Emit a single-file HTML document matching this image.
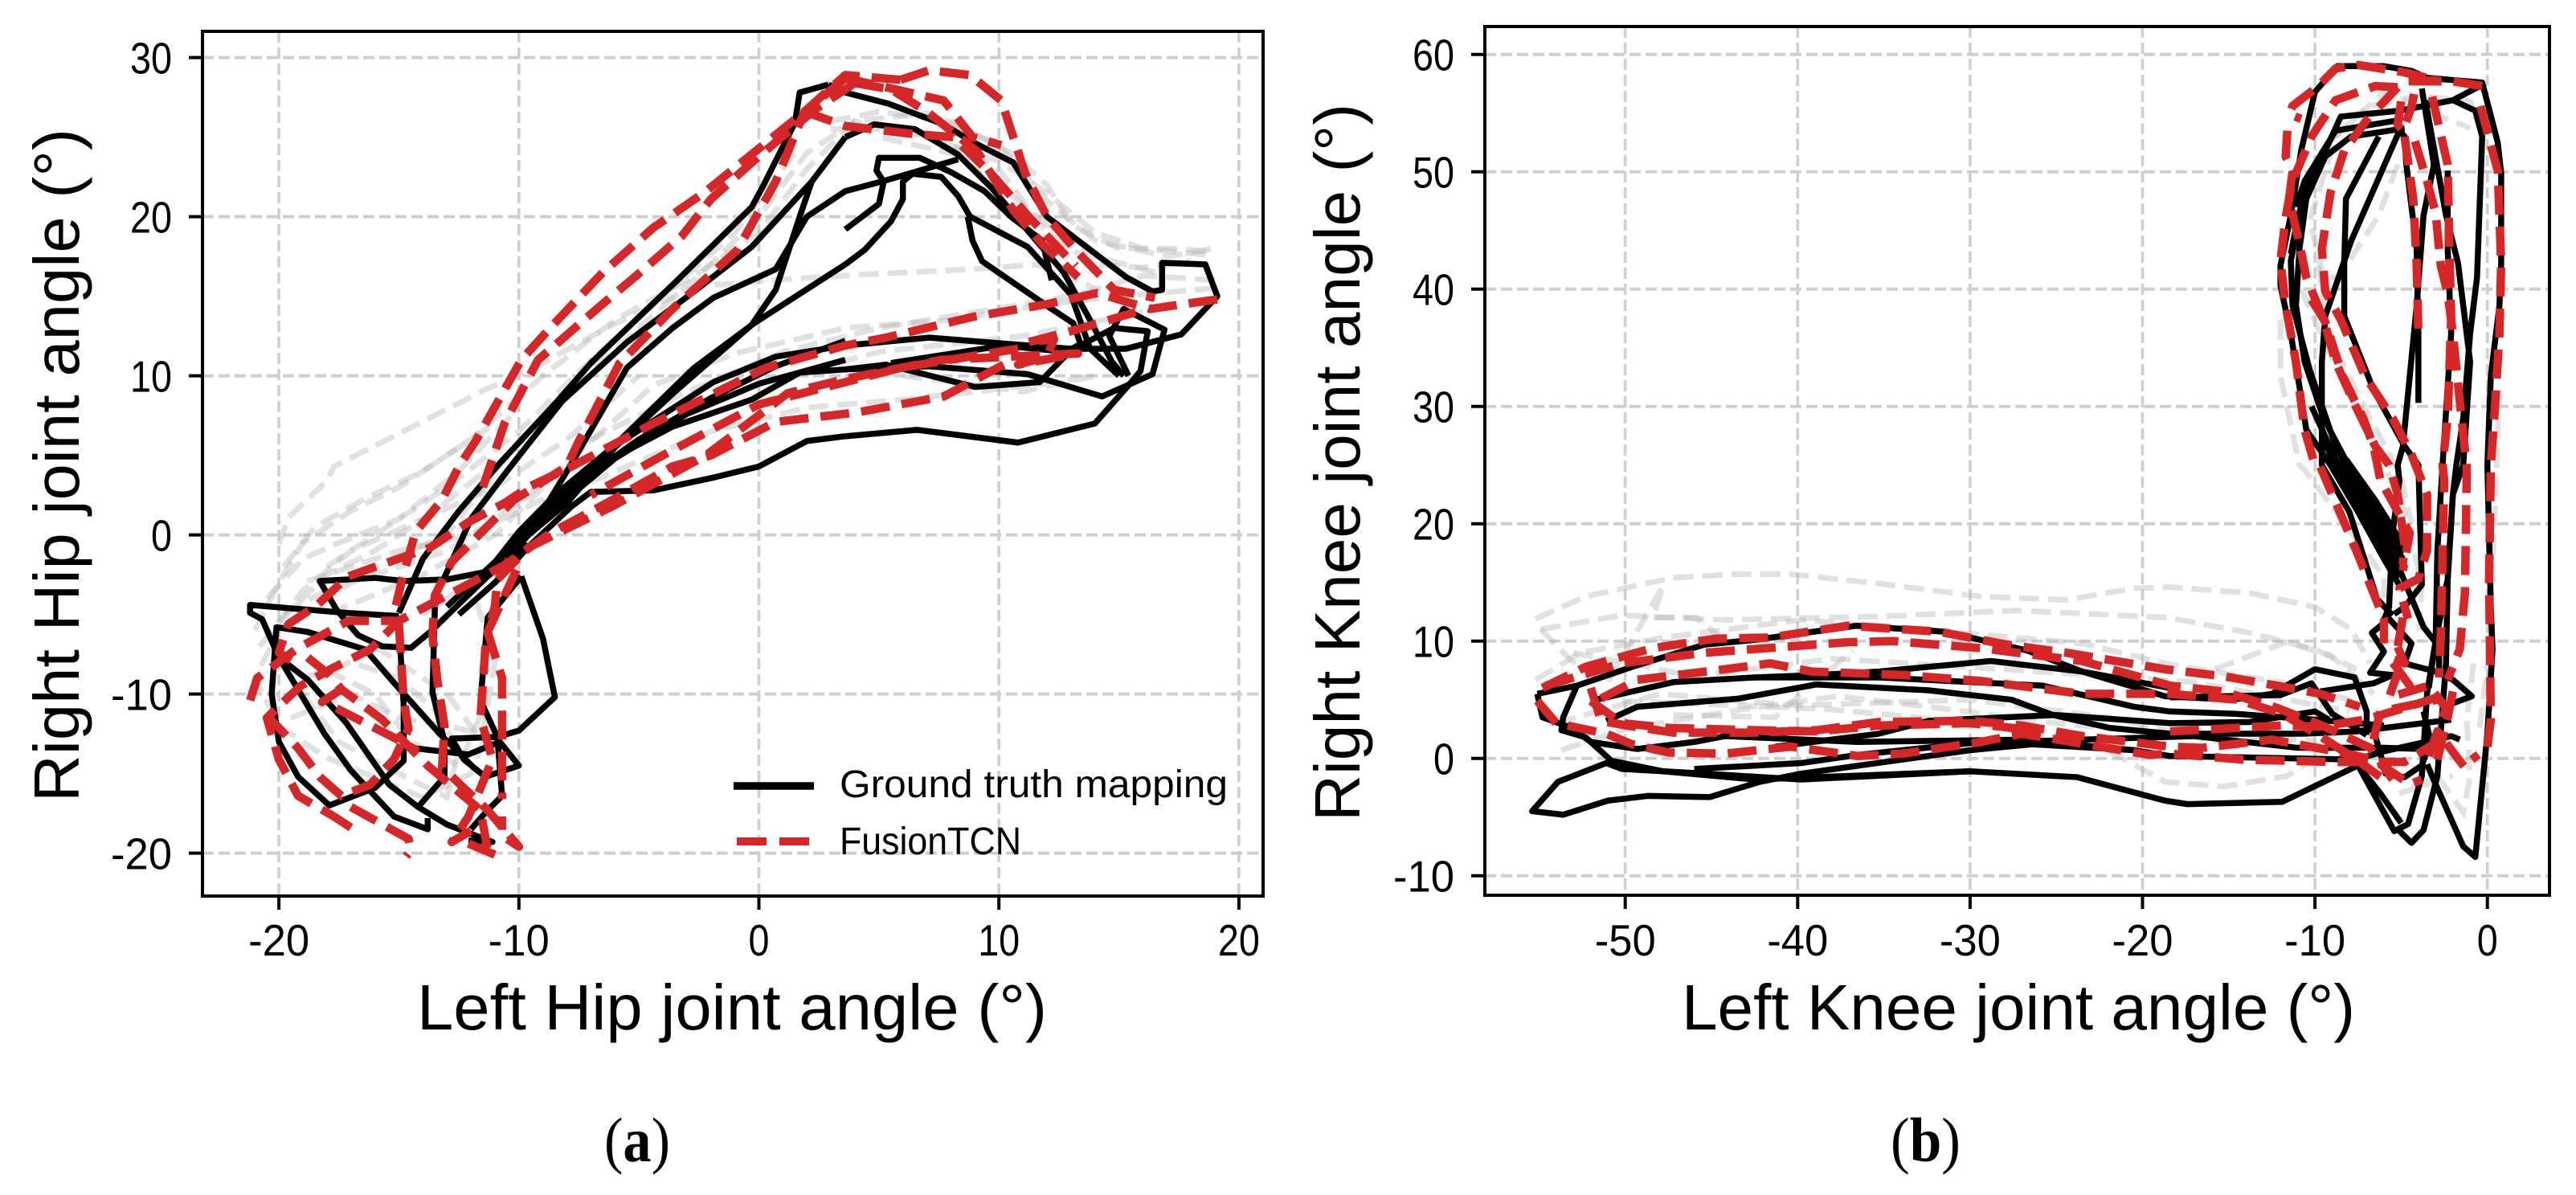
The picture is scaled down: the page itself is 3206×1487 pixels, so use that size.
<!DOCTYPE html>
<html lang="en">
<head>
<meta charset="utf-8">
<title>Joint angle mappings</title>
<style>
html,body{margin:0;padding:0;background:#fff;}
svg{display:block;}
text{font-family:"Liberation Sans",sans-serif;fill:#000;}
</style>
</head>
<body>
<svg id="figure" xmlns="http://www.w3.org/2000/svg" width="3206" height="1487" viewBox="0 0 3206 1487">
<rect width="3206" height="1487" fill="#fff"/>
<g id="chart-a"></g>
<g id="chart-b"></g>
<text x="519" y="1281" font-size="80" textLength="784" lengthAdjust="spacingAndGlyphs">Left Hip joint angle (°)</text>
<text transform="translate(98,998) rotate(-90)" font-size="80" textLength="838" lengthAdjust="spacingAndGlyphs">Right Hip joint angle (°)</text>
<text x="2093" y="1281" font-size="80" textLength="838" lengthAdjust="spacingAndGlyphs">Left Knee joint angle (°)</text>
<text transform="translate(1692,1022) rotate(-90)" font-size="80" textLength="893" lengthAdjust="spacingAndGlyphs">Right Knee joint angle (°)</text>
<text x="752" y="1445" font-size="78" textLength="82" lengthAdjust="spacingAndGlyphs" style="font-family:'Liberation Serif',serif">(<tspan font-weight="bold">a</tspan>)</text>
<text x="2353" y="1445" font-size="78" textLength="87" lengthAdjust="spacingAndGlyphs" style="font-family:'Liberation Serif',serif">(<tspan font-weight="bold">b</tspan>)</text>
<g>
<line x1="913" x2="1013" y1="978" y2="978" stroke="#000" stroke-width="9.5"/>
<line x1="917" x2="1007" y1="1047" y2="1047" stroke="#d62728" stroke-width="10" stroke-dasharray="37 16"/>
<text x="1045" y="992" font-size="48" textLength="483" lengthAdjust="spacingAndGlyphs">Ground truth mapping</text>
<text x="1045" y="1063" font-size="48" textLength="226" lengthAdjust="spacingAndGlyphs">FusionTCN</text>
</g>
</svg>
<script>
// ---- tick values ----
const hipXTicks = [-20, -10, 0, 10, 20];
const hipYTicks = [-20, -10, 0, 10, 20, 30];
const kneeXTicks = [-50, -40, -30, -20, -10, 0];
const kneeYTicks = [-10, 0, 10, 20, 30, 40, 50, 60];

// ---- hip panel: ground truth traces, [left angle, right angle] ----
const hipTruth = [
 [[2.9,28.3],[1.7,27.8],[1.5,25.9],[0.2,22],[-0.3,20.6],[-3.4,16],[-7,10.8],[-8.4,8.4],[-10.8,4.5],[-12.5,1.5],[-14,-1.5],[-15,-4.9]],
 [[2.9,28.3],[3.6,27.8],[5.4,27.1],[7.7,25.8],[8.9,24.7],[10.6,23.4],[12,20],[15.3,16.2],[16.4,15.3],[16.8,15.4],[16.8,17.1],[18.6,17],[19.1,15],[17.6,12.6],[15.3,11.7],[13,11.7],[10.4,12],[7.1,12.4],[3.6,11.9],[0.7,11.2],[-1.9,9.6],[-6.1,5.5],[-8.5,2.5],[-10,0.2],[-11.3,-2.3],[-13,-2.8],[-14.8,-2.9],[-16,-2.7],[-18.3,-2.9],[-17.6,-4.7],[-16.7,-6.3],[-15.7,-7],[-14.5,-7.1],[-13.7,-6.1],[-11.3,-2.6],[-9.6,-0.6]],
 [[3.6,25],[2.2,22.2],[-0.3,18.1],[-2.7,15.3],[-5.5,12.1],[-8.2,8.4],[-10.5,4],[-12,1],[-13.5,-4]],
 [[3.6,25],[4.8,25.8],[6.5,25.5],[8.3,23.9],[9.7,21.8],[11.1,19.3],[12.7,16.5],[13.8,13.5],[14.7,10.9],[15.2,10]],
 [[2.2,22.2],[1.7,20],[0.7,15.4],[-0.3,13.2],[-3.5,9],[-6,5.5],[-8,2],[-10,-0.5]],
 [[8.3,23.6],[5.1,22.2],[3.6,21.6],[2,20],[0.7,16.7],[-1.9,14.9],[-3.6,13],[-5.5,10.5],[-7.8,4.5],[-9,1.5]],
 [[3.6,17],[-0.2,13.3],[-2.7,10.5],[-6.1,5.5],[-8,2.5],[-10.5,-1],[-13,-4.5]],
 [[3.6,19.2],[5,20.8],[5.2,22.2],[4.9,22.9],[5,23.7],[6.7,23.7],[8,22.8],[9.4,21.6],[10.5,20],[11.8,18.5],[12.2,16]],
 [[3.6,17],[4.4,17.9],[5.5,19.7],[6,21.1],[6,22.2],[6.4,22.7],[7.6,22.5],[8.3,21.3],[8.8,20],[11.2,18.1],[13,15.1],[13.8,11.7],[15,10]],
 [[8.7,20],[8.9,18.5],[9.3,17.2],[12,14.4],[13.1,13.3],[13.4,12],[12.8,11.5],[10.2,11.9],[5.5,10.8]],
 [[3.6,6.2],[6.6,6.6],[10.8,5.8],[14,7],[15.4,9.4],[15.9,10.3],[16.2,12.8],[14.8,13],[13,11.6],[11.7,9.6],[9,9.3],[5.3,10.7],[3.6,10.4],[1.7,10.2],[-0.3,8.5],[-3.6,6.8],[-6.5,4.5],[-9,1.5],[-10.5,-1]],
 [[3.6,6.2],[2,5.9],[0,4.3],[-1.9,3.6],[-4.4,2.8],[-7,2.7],[-7.8,1.8],[-9.5,-0.6],[-11,-3],[-12.5,-5]],
 [[3.6,10.4],[7.1,10.6],[11.2,10.1],[14.3,8.7],[16.4,10.1],[16.9,12.9],[15.2,14.2],[14.6,12.5],[15.4,10]],
 [[3.6,12.2],[0.7,10.6],[-2,8.6],[-5,6],[-8,2.8],[-10,0],[-11,-2]],
 [[3.6,11],[0,9.5],[-3,7.6],[-6,4.8],[-9,1],[-10.5,-1.5]],
 [[-15,-5.1],[-17.2,-4.9],[-21.2,-4.4],[-21.2,-4.9],[-20.7,-5.3],[-20,-7.7],[-18.1,-12.5],[-17,-14.8],[-15.2,-17.7],[-13.8,-18.5],[-13.8,-17.8]],
 [[-15,-5.6],[-14.8,-10.7],[-14.8,-14.2],[-16,-15.9],[-17.9,-17],[-19.2,-15.2],[-20,-13],[-20.3,-10],[-20.1,-5.8],[-18.8,-6.1],[-16.4,-7.2],[-15.2,-9.3],[-13.3,-12.5],[-11.9,-14.6],[-11.4,-15.2],[-10,-14.5],[-10.8,-13],[-12.1,-13.8],[-14.4,-13.4]],
 [[-20,-7.7],[-18.8,-9.1],[-17.2,-11.8],[-15.4,-15.7],[-14.2,-17.1],[-13,-18.2],[-11.1,-19.3],[-12.1,-19.2]],
 [[-13.5,-4.5],[-13.6,-9.9],[-13.1,-13],[-13.1,-15.2],[-14.2,-17.1]],
 [[-9.9,-2.6],[-9,-6.5],[-8.5,-10.2],[-10,-12.3],[-10.9,-12.7],[-12.8,-12.8],[-12.3,-14.1],[-11.4,-15.2]],
 [[-9.9,-2.6],[-11.3,-5.2],[-11.6,-10.4],[-10.9,-12.7],[-10.7,-16.4],[-11.3,-17.3],[-12,-18.5]]
];

// ---- hip panel: FusionTCN traces ----
const hipPred = [
 [[5.9,28.6],[3.6,28.9],[1.9,26.6],[-2.2,21.6],[-4.4,19.3],[-6.5,16.5],[-8.7,13],[-9.9,11],[-11.8,5.9],[-12.5,4.3],[-13.2,2.2],[-14.3,0.2],[-14.8,-2.4],[-15.2,-4.9]],
 [[4,28.4],[2.4,26.8],[0,23.8],[-2,21.1],[-3.2,18.8],[-5.1,16.3],[-6.6,14.4],[-9.2,11],[-10.6,7],[-11.5,3]],
 [[3.6,28.7],[1.9,26.6],[0.7,22.2],[-0.9,17.9],[-3.6,14.2],[-5.8,10.8],[-7.5,5.9],[-8,4.3],[-10.2,2.2],[-12.8,-1.7],[-13.5,-3.8],[-13.6,-6.3],[-13.4,-9.1],[-13.1,-12],[-13.2,-14.6],[-12.3,-15.9],[-11.3,-17.3],[-10,-19.6],[-10.7,-18.9],[-10.7,-17.7]],
 [[3.6,28.7],[5.4,28.1],[7.7,27.3],[8.9,25],[10.1,24.5]],
 [[5.9,28.6],[7.1,29.2],[8.8,28.9],[10.1,27.3],[10.6,25],[11.1,22.7],[12,20],[13.2,17.9],[14.8,15.4],[16.5,14.9]],
 [[1.9,26.6],[3.6,25.7],[6.4,25.2],[8.1,25],[9.8,22.5],[11.3,19.9],[13.2,16.9]],
 [[4,28.4],[5.5,28],[7,26.6],[9.1,24.1],[10.6,20.4],[11.8,18.3],[13.3,16.2]],
 [[19.1,14.8],[16.3,14.2],[14.1,15.2],[12,14.5],[8.9,13.7],[5.3,12.4],[3.6,11.9],[0.3,10.5],[-4.4,7],[-7.8,4.3],[-9.6,3],[-10.6,2],[-12.1,0.8],[-13.7,-0.8],[-17.1,-2.6],[-18.4,-4.4],[-19.6,-5.6],[-20,-7.4],[-19.5,-7.9]],
 [[15.7,14],[13,12.8],[11.2,12.1],[12.3,12.3],[12,11.2],[10.8,10.7],[13.3,11.4],[7.6,11],[3.6,9.8],[1.2,8.9],[-2.2,5],[-6.1,1.8],[-9.6,-0.8],[-10.9,-2.8],[-11,-4.5],[-11.3,-6.1],[-10.7,-9],[-10.7,-12.2],[-10.7,-16.6]],
 [[10.2,10.7],[7.7,8.7],[4.1,7.7],[0.7,7.1],[-2,5],[-3.6,4.3],[-6.1,2.2],[-8.7,0.1],[-10.6,-1.9],[-15,-5.4],[-16.2,-7.2],[-17.8,-8.4],[-19.1,-9.5],[-20.1,-10.9],[-20.5,-11.5],[-20,-14.1],[-19.2,-16.4],[-17.7,-17.7]],
 [[10.8,11.7],[5.9,10.5],[3.6,9.6],[0,8.2],[-4,5],[-7,2.5]],
 [[-10.1,-2.2],[-11.3,-6.1],[-11.4,-7.2],[-11.6,-11.5],[-11.1,-14.1],[-12.1,-17.7],[-12.8,-19.3],[-12,-18.6]],
 [[-21.2,-10.4],[-20.9,-9],[-19.3,-7.2],[-17.1,-5.4],[-15,-5.4]],
 [[-15,-5.6],[-14.8,-10.4],[-14.6,-12.2],[-15.2,-14.1],[-16.2,-15.7],[-17.4,-16.4],[-18.3,-15.2],[-19.2,-13.4],[-20.4,-11.5]],
 [[-18.8,-7.7],[-17.9,-8.8],[-17.4,-9.7],[-18.2,-10.5],[-17.4,-9.7],[-15.7,-11.6],[-13.8,-14.5],[-11.6,-17.3],[-11.3,-19.8]],
 [[-17.6,-10.9],[-15,-12.9],[-14.2,-13.6]],
 [[-17,-17.1],[-14.6,-19.1],[-14.5,-19.8],[-14.7,-20.2]],
 [[-17.7,-17.7],[-17,-18.4]],
 [[-12.1,-19.4],[-11,-20.1]]
];

// ---- hip panel: faint gray traces ----
const hipOther = [
 [[-21,-6],[-20,-3],[-19,-0.5],[-17,1.5],[-15,3],[-12,6],[-9,10],[-6,13.5],[-3,16],[0,19],[2,23],[4,26],[7,26.5],[10,24.5],[12,21],[14,18.5],[17,17.5],[19,18]],
 [[-20,-0.6],[-19.6,1.1],[-18,3.4],[-17.7,4.3],[-11.3,9.2],[-9.6,10.3],[-6.1,13.2],[-2.7,15.6],[1.4,16.1],[4.8,16.4],[8.9,16.7],[11.6,17],[14,15.5]],
 [[19,15.5],[15,15],[12,14.5],[8,13.5],[3.6,13],[-1,11.4],[-4.4,9.4],[-8,4.5],[-11,0],[-14,-2.5],[-18,-5]],
 [[19,16],[16,16.3],[13,15],[9,14],[5,13],[1,11.5],[-3,9],[-7,6],[-10,2],[-13,-1],[-17,-3],[-20,-6],[-21,-9],[-20,-12],[-18,-14],[-14,-16.5],[-12,-15],[-11.5,-13],[-13,-10],[-15,-8],[-17,-6]],
 [[18.6,17.6],[16,18],[14,19],[12,21.5],[10,23.5],[7,25],[4,26],[2,24],[0,20],[-2,17],[-5,13],[-8,9],[-11,4],[-13,0],[-16,-2],[-20,-5]],
 [[6,10],[11,9],[14,10],[12,9.5],[6,8.5],[2,8],[-2,6.5],[-6,4],[-9,2]],
 [[16,14],[11,12.5],[5,11.5],[0,9.5],[-4,7],[-8,3],[-12,0],[-15,-1],[-19,-3]],
 [[-19,-10],[-17.5,-13],[-15,-15],[-13,-16.5],[-12.5,-13.5],[-13.5,-11],[-15,-9],[-17,-8],[-19,-9]],
 [[3,25.5],[6,25.5],[8,24.5],[10,23],[12,19],[14,17],[16,16.8],[18,17.2]],
 [[3,26],[5,26.6],[8,26],[10.5,24],[12,22],[13,19.5],[15,18],[17,18],[19,17.8]],
 [[-18,-2],[-16,0],[-13,3],[-10,6.5],[-7,11],[-4,15],[-1,19],[1.5,24]],
 [[-20.8,-7],[-19,-3.5],[-17,-1],[-14,1],[-11,3],[-8,6],[-5,10]],
 [[-19.5,-11.5],[-17,-10],[-15,-11.5],[-13,-12],[-11.5,-12.5],[-11,-8],[-12,-3],[-14,-5]],
 [[-20.5,-4],[-19,-1.5],[-17.5,-0.5],[-15,1],[-12.5,4],[-10,8]],
 [[-20,-5.5],[-18,-2.5],[-16,-1],[-13.5,1.5],[-11,4.5]],
 [[-19.8,-2],[-18.5,0.5],[-16.5,2.2],[-14,4],[-11,7]],
 [[-18,-8.5],[-16,-10],[-14.5,-13],[-12.5,-14.5],[-11.5,-11]],
 [[16.5,16.5],[14,17.5],[12,19.5],[10,22],[8,24],[5,25]]
];

// ---- knee panel: ground truth traces ----
const kneeTruth = [
 [[-4,30.3],[-4,36.2],[-4.1,43.4],[-4.7,50.6],[-4.8,53],[-5.1,53.5],[-7.9,44.1],[-9.4,37.7],[-9.6,33.8],[-9.6,25],[-8,21],[-6.4,13.6],[-5.5,12.2]],
 [[-3.5,58],[-0.3,57.6],[0.6,52.5],[0.8,49.9],[0.8,42.2],[0.7,38.6],[0.2,32.6],[0,25],[0.2,12.9],[0.3,9.3],[0,2.1],[-0.7,-8.4],[-1.4,-7.5],[-3,-2.2],[-3.5,-0.5]],
 [[-3.5,58],[-4.4,58.6],[-6,59],[-8.7,59],[-10,56.8],[-10.8,51.8],[-11.4,46.3],[-12,42],[-12,40.3],[-11.4,36.2],[-10.9,31.7],[-10.5,28],[-9.1,25],[-7.5,21],[-6,17],[-5,14.5]],
 [[-0.3,57.4],[-2,56.1],[-5.1,55.2],[-8.5,54.7],[-9.4,51.8],[-10.8,46.8],[-11.4,42.4],[-11.3,38.6],[-10.3,33.1],[-8.8,26.6],[-8.2,25],[-6,20.5],[-4.9,17.5]],
 [[-2,56.1],[-0.7,55.2],[-0.3,53],[-0.6,41],[-1,36.2],[-1.4,29],[-1.8,25],[-2,22.5],[-2.3,15.3],[-2.4,8.1],[-2.9,-1.5],[-3.7,-6.1],[-4.4,-7.2],[-5.3,-5.9]],
 [[-5.1,54.4],[-8.8,53.5],[-10.6,49.2],[-11.1,47]],
 [[-4.8,53.7],[-7.9,53],[-9.4,51.3],[-10.5,47.7],[-10.9,43.4],[-11.1,38.6],[-10.6,33.8],[-9.5,29],[-7.7,24],[-6,19.5],[-4.8,16.5]],
 [[-6.3,53],[-8.2,47.7],[-8.3,42.2],[-8.3,37.7],[-6.6,31.4],[-4.8,26.6],[-4,25],[-3.8,14.8],[-4.8,12.9],[-5.4,12.3]],
 [[-3.8,57.1],[-3.1,50.6],[-3.7,46.3],[-4.1,38.6],[-4.9,26.6],[-5.2,25],[-5.1,23.7],[-5.5,19.2],[-5.7,12.9],[-6,11.8]],
 [[-3.6,56.1],[-2.4,46.3],[-1.7,42.2],[-1,33.8],[-1.4,25],[-2,22.5],[-2.3,15.3],[-3,10],[-3.4,6]],
 [[-2.3,50.1],[-2.3,43.4],[-2.1,36.2],[-2.6,25],[-2.9,17.7],[-3,10],[-3.5,5.5],[-3.8,-1.5],[-4.6,-5.6],[-5.4,-6.2],[-7.5,-0.6],[-11.9,-3.7],[-17.4,-3.9],[-18.7,-3.6],[-23.8,-1.6],[-30,-1.1],[-39.8,-1.8],[-45.4,-1.3],[-50.2,-0.9],[-51.1,-0.4],[-53.9,-2],[-55.4,-4.5],[-53.6,-4.8],[-51,-3.6],[-48.7,-3.2],[-45.1,-3.3],[-42.2,-2],[-39.8,-1.3],[-30,0.7],[-26.4,1.2],[-20.5,0.7],[-18.4,0.2],[-7.6,-0.1],[-6,0.6],[-2.1,1.9],[-1.6,1.6]],
 [[-5.2,16.5],[-3.7,11.2],[-2.8,9.5],[-2.8,7]],
 [[-9.1,25],[-7,21],[-5.2,16.5]],
 [[-8.6,25],[-6.8,21.5],[-4.9,17]],
 [[-8.2,25.5],[-6.5,22],[-4.8,18]],
 [[-9.5,27],[-7.5,21.5],[-5,15.5]],
 [[-10.2,30],[-8.8,25.5],[-7.2,21.8],[-5.5,17.2]],
 [[-9,53],[-10.2,50],[-11,46],[-11.4,43]],
 [[-55.1,5.5],[-54.8,3.5],[-53.1,2.6],[-52,1.4],[-49.3,0.8],[-46,1.4],[-44.2,1.9],[-36.5,1.4],[-27,1.6],[-20.5,0.7]],
 [[-55.1,5.5],[-52.8,6.2],[-49.6,7.8],[-45.4,9.7],[-42.5,10.1],[-36.6,11.3],[-31.5,10.8],[-26.7,9.2],[-23.5,7.4],[-18.7,5.3],[-14.8,5],[-12.5,5.5],[-10,7.6],[-7.7,6.9],[-7,4],[-7,2]],
 [[-52.8,6.2],[-53.6,3.5],[-53.7,2.4],[-52.3,1.8],[-50.8,-0.2],[-47.8,-1.1],[-42.5,-1.8],[-30,-1.1]],
 [[-52,4.9],[-50.2,5.5],[-47.2,6.5],[-42.5,6.9],[-38.9,7.1],[-35.3,7.4],[-28.8,8.3],[-23.5,7.4],[-18.4,6]],
 [[-51.1,3.2],[-49.3,4.4],[-43.4,5.1],[-38.9,6.3],[-32.4,5.8],[-27.6,5],[-25.2,3.7],[-21.9,2.6],[-18.4,2.1],[-10.7,2.1],[-7.6,2.3],[-2.1,3.3]],
 [[-42.5,6.9],[-35.3,6.9],[-25.8,6.2],[-20.5,4.4],[-18.4,4],[-14.6,3.8],[-10,3.3],[-6,2.8]],
 [[-41.3,1],[-35.3,2.1],[-32.4,3.2],[-25,3.7],[-18.4,3],[-13.8,3.1],[-10,4],[-9.2,3.3]],
 [[-46,-0.9],[-39.8,-0.4],[-36.5,0.3],[-30,1.3],[-17,1.9],[-11,0.9],[-6,0.9],[-3.8,0.8]],
 [[-9.7,5.7],[-6.6,6.4],[-5.5,7.1],[-6.8,7.3],[-6,9.1],[-6.7,10.7],[-5.7,11.9],[-4.4,9.8],[-4.8,8.1],[-3,7.4],[-2,6.7],[-0.9,5.3],[-2,4.7]],
 [[-18.4,5.2],[-12,5.4],[-10.2,6.4],[-9,3.8],[-7,2]],
 [[-6.5,1.9],[-6.2,0.4],[-5.9,-1.3],[-4.8,-1.6],[-3.8,-0.6],[-3.3,1.5],[-3.7,4]],
 [[-7.5,-0.6],[-6.2,-3],[-5,-5.5]]
];

// ---- knee panel: FusionTCN traces ----
const kneePred = [
 [[-54.8,6],[-52.3,7.8],[-48.4,9.4],[-44.8,10.2],[-41.6,10.3],[-37.1,11.3],[-31.8,10.8],[-27.9,9.7],[-24.4,9],[-18.7,7.6],[-15.3,7],[-12.2,6.2],[-9.7,5.5],[-7.4,4.4]],
 [[-54.6,6.2],[-50.2,8.1],[-45.4,9],[-37.1,9.9],[-34.5,10],[-29.4,9.4],[-23.5,8.3],[-19.6,6.7],[-18.4,6.2],[-15.3,5.7],[-12.2,4.3],[-9.6,2.8],[-6.8,0.9],[-5.5,-1.8]],
 [[-51.4,5.1],[-49.3,6.7],[-44.2,7.6],[-41.6,8.1],[-39.2,7.4],[-33.9,7.1],[-29.4,6.6],[-23.5,5.5],[-18.4,5.5],[-14.5,5],[-11.9,3.8],[-9.7,1.9],[-7.6,-0.1],[-6,-1.8]],
 [[-55.1,4.9],[-54,3],[-51.1,2.1],[-49.6,1.2],[-47.5,0.5],[-44.2,0.4],[-40.4,1],[-36.5,0.2],[-33.9,0.4],[-29.4,1.4],[-27,2.1],[-19.6,0.3],[-18.4,0.4],[-14.2,-0.1],[-9.1,-0.3],[-4.8,-0.3],[-2.9,1.4]],
 [[-52,6],[-51.4,3.2],[-49.9,2.8],[-47.2,2.2],[-42.5,2.2],[-38.9,2.4],[-35.3,3.1],[-30,3.2],[-27,2.8],[-23.5,1.9],[-18.4,1],[-16.5,0.9],[-12.5,1.6],[-8.8,0.6],[-6.6,-0.1],[-4.5,-2.2],[-3.8,-1.8]],
 [[-52,4.9],[-50.2,3],[-47.5,2.6],[-42.5,2.4],[-38.9,2.3],[-35.3,2.8],[-30,3],[-27,2.5]],
 [[-18.4,2.3],[-11.9,2.8],[-9.7,2.7],[-7.1,3.3],[-4.8,4.3],[-2.9,5.2]],
 [[-0.3,57.3],[-2,57.7],[-4.8,57.7],[-2.9,57.8],[-4.9,58.5],[-7.5,59.1],[-8.8,58.8],[-9.8,57.3],[-11.3,55.6],[-11.5,54.9],[-10.8,54.5]],
 [[-0.4,55.6],[0.6,50.1],[0.8,42.2],[0.7,36.2],[0.4,29],[0.2,25],[0.1,15.3],[0.2,3.3],[0,0.9],[-0.9,-0.1]],
 [[-5.2,57.2],[-6.5,57.3],[-8.8,56.1],[-10.2,53],[-11.3,49.2],[-11.7,46.1],[-12,42.4],[-11.7,38.6],[-11.1,33.8],[-10.6,28],[-10,25],[-9.7,24.9],[-7.6,17.7],[-6,11.9],[-6,9.8]],
 [[-5.2,57.2],[-6.3,55.5]],
 [[-6.9,54.6],[-8.3,51.8],[-9.1,48.2],[-9.6,43.4],[-9.4,39.8],[-8.5,37.4],[-7.1,32.6],[-5.5,29],[-4.4,25.9],[-3.5,22.5],[-3.5,17.7],[-4,15.3],[-5.1,14.5],[-4.6,11.9]],
 [[-11.6,53.5],[-11.7,51.3],[-11.3,50],[-11.5,47.7],[-10.9,43.9],[-10.5,41],[-9.5,37.4],[-8.8,33.8],[-7.7,30.2],[-6.5,26.6],[-5.7,25],[-5.2,22.5],[-4.8,18.2],[-4.9,16.5]],
 [[-10.2,39.1],[-9.4,37.2],[-8.4,32.6],[-7.2,29],[-6.6,26.6],[-6.2,23.7],[-4.5,19.2],[-4.9,16]],
 [[-4.8,53],[-4.3,47.7],[-4.1,42.2],[-4,36.2]],
 [[-4.2,52.6],[-3.5,49.2],[-3,46.5],[-2.7,42],[-2.3,39.6],[-2,36.2],[-1.5,29],[-1.2,25],[-1.2,24],[-1.3,14.1],[-1.6,9.3],[-2.3,6.7]],
 [[-3.2,56.4],[-2.3,50.6],[-2.2,43.4],[-2.1,37.4],[-2.3,29],[-2.6,25],[-2.5,23.7],[-2.7,10.5],[-2.8,6.9]],
 [[-5,56],[-5.2,54],[-4.9,53.5],[-4.4,55.5],[-4.2,57]],
 [[-5.2,9.5],[-4.8,8.1],[-5.7,8.6],[-4.5,6.2],[-5.2,7.3],[-5.7,5.2],[-3.4,6.2],[-2.4,4.3],[-3.5,-0.3],[-2.9,2.3],[-1.3,-0.8]],
 [[-2,5.7],[-2.3,3.5],[-2.9,-0.1]],
 [[-6.6,1.6],[-6.2,4],[-2.9,5]],
 [[-4.9,12],[-5.2,9.5]]
];

// ---- knee panel: faint gray traces ----
const kneeOther = [
 [[-55.2,11.9],[-52.3,13.8],[-47.2,15.4],[-43.6,15.7],[-40.4,15.7],[-35.3,14.9],[-29.4,13.8],[-24.4,13.5],[-20.5,14.5],[-18.4,14.6],[-13.8,14.1],[-10,12.9],[-7.9,11],[-6.8,8.1]],
 [[-54.9,11],[-50.2,12.2],[-44.2,11.8],[-35.3,12.1],[-27.3,12.6],[-18.5,12],[-13.8,10.7],[-10,9.3],[-7.6,7.6]],
 [[-55.2,6.7],[-52.6,9],[-47.8,10.3],[-39.8,11.8],[-32.9,11],[-23.5,9.8],[-18.4,8],[-12,6.5],[-8,5]],
 [[-53.7,0.7],[-50,2.5],[-44,4],[-37.7,5.3],[-32.4,4.4],[-25,3],[-18,2],[-10,1.5]],
 [[-54.9,11],[-53.1,8.3],[-51,6.5],[-47.8,14.7],[-48.4,12],[-45.9,12],[-44.2,10]],
 [[-47.2,3.7],[-41.3,3.5],[-39.8,5.5],[-36.8,9.2]],
 [[-50.2,4.9],[-38.3,4.2],[-29.4,3],[-22,0.7],[-18.7,-2],[-15.3,-2.4],[-11.6,-1.5],[-9,1]],
 [[-15.8,7.6],[-11.7,9.9],[-9.1,8.8],[-6.6,5.5]],
 [[-12,37.4],[-12,32.6],[-10.9,25],[-10.5,24.4],[-6,15.5],[-6,12.9],[-5,10]],
 [[-5.2,50.6],[-6.3,46.3],[-8.6,41],[-9.5,41],[-10.3,45.8],[-8.8,53],[-6,56.8],[-1,53.7]],
 [[-0.8,8.1],[-1.2,3.3],[-1,-1.5],[-1.4,-4.6],[-2.9,-1.5],[-5.1,-3],[-2,-1.5]],
 [[0.7,31.4],[0.4,20],[0.1,9],[-0.5,2]],
 [[-10.5,48],[-9.5,52],[-7,55.5],[-4,56.5],[-1,56],[-0.5,54]],
 [[-10.8,40],[-9,34],[-7,28],[-5,22],[-3.8,15],[-4,10]],
 [[-9.8,42],[-9.2,36],[-6.8,29],[-5,24],[-4.4,20]],
 [[-54,3],[-48,5.5],[-40,4.5],[-30,5],[-22,3.5],[-16,1.5],[-8,1]],
 [[-53,9],[-46,7],[-38,8.5],[-27,7.5],[-17,6.5],[-8,4]]
];

// ---- axis functions ----
const hipX = v => 944.5 + 29.87 * v;
const hipY = v => 665.6 - 19.8 * v;
const kneeX = v => 3095.7 + 21.46 * v;
const kneeY = v => 943.7 - 14.6 * v;

const NS = 'http://www.w3.org/2000/svg';
function make(parent, tag, attrs) {
  const n = document.createElementNS(NS, tag);
  for (const k in attrs) n.setAttribute(k, attrs[k]);
  parent.appendChild(n);
  return n;
}
function labelWidth(t) {
  const s = String(t);
  return s.replace('-', '').length * 26 + (s[0] === '-' ? 24 : 0);
}

function drawPanel(root, box, xf, yf, xTicks, yTicks, other, truth, pred) {
  for (const t of xTicks) {
    const g = make(root, 'line', {x1: xf(t), x2: xf(t), y1: box.top, y2: box.bottom, stroke: '#cfcfcf', 'stroke-width': 3.6, 'stroke-dasharray': '14 6'});
    
    
  }
  for (const t of yTicks) {
    const g = make(root, 'line', {x1: box.left, x2: box.right, y1: yf(t), y2: yf(t), stroke: '#cfcfcf', 'stroke-width': 4, 'stroke-dasharray': '14 6'});
    
    
  }
  for (const tr of other) {
    const p = make(root, 'polyline', {points: tr.map(q => xf(q[0]) + ',' + yf(q[1])).join(' '), fill: 'none', stroke: '#b8b8b8', 'stroke-opacity': 0.42, 'stroke-width': 7, 'stroke-dasharray': '25 11'});
    
    
  }
  for (const tr of truth) {
    const p = make(root, 'polyline', {points: tr.map(q => xf(q[0]) + ',' + yf(q[1])).join(' '), fill: 'none', stroke: '#000', 'stroke-width': 7.5, 'stroke-linejoin': 'round'});
    
    
  }
  for (const tr of pred) {
    const p = make(root, 'polyline', {points: tr.map(q => xf(q[0]) + ',' + yf(q[1])).join(' '), fill: 'none', stroke: '#d62728', 'stroke-width': 10.5, 'stroke-dasharray': '36 15', 'stroke-linejoin': 'round'});
    
    
  }
  const frame = make(root, 'rect', {x: box.left, y: box.top, width: box.right - box.left, height: box.bottom - box.top, fill: 'none', stroke: '#000', 'stroke-width': 4});
  
  
  for (const t of xTicks) {
    const m = make(root, 'line', {x1: xf(t), x2: xf(t), y1: box.bottom, y2: box.bottom + 17, stroke: '#000', 'stroke-width': 4});
    
    
    const l = make(root, 'text', {x: xf(t) - labelWidth(t) / 2, y: 1189, 'font-size': 55, textLength: labelWidth(t), lengthAdjust: 'spacingAndGlyphs'});
    l.textContent = String(t);
    
    
  }
  for (const t of yTicks) {
    const m = make(root, 'line', {x1: box.left - 17, x2: box.left, y1: yf(t), y2: yf(t), stroke: '#000', 'stroke-width': 4});
    
    
    const w = labelWidth(t);
    const l = make(root, 'text', {x: box.labelRight - w, y: yf(t) + 20, 'font-size': 55, textLength: w, lengthAdjust: 'spacingAndGlyphs'});
    l.textContent = String(t);
    
    
  }
}

drawPanel(document.getElementById('chart-a'), {left: 252, right: 1572, top: 39, bottom: 1115, labelRight: 214}, hipX, hipY, hipXTicks, hipYTicks, hipOther, hipTruth, hipPred);
drawPanel(document.getElementById('chart-b'), {left: 1848, right: 3173, top: 33, bottom: 1114, labelRight: 1810}, kneeX, kneeY, kneeXTicks, kneeYTicks, kneeOther, kneeTruth, kneePred);
</script>
</body>
</html>
